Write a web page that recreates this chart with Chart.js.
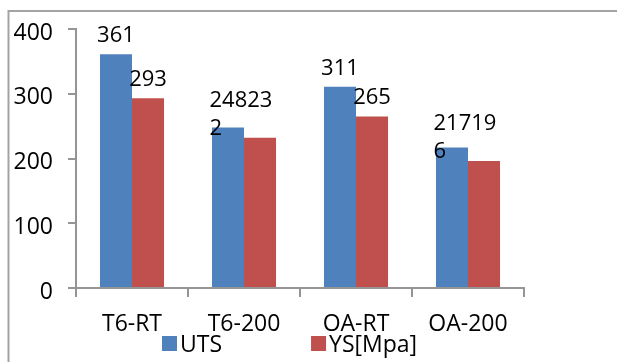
<!DOCTYPE html>
<html>
<head>
<meta charset="utf-8">
<script src="https://cdn.jsdelivr.net/npm/chart.js@4.4.0/dist/chart.umd.min.js"></script>
<style>
  html, body { margin: 0; padding: 0; background: #fff; }
  #wrap { width: 617px; height: 362px; }
</style>
</head>
<body>
<div id="wrap"><canvas id="c" width="617" height="362"></canvas></div>
<script>
// Tensile results per temper / test temperature
const categories = ['T6-RT', 'T6-200', 'OA-RT', 'OA-200'];
const utsValues = [361, 248, 311, 217];
const ysValues = [293, 232, 265, 196];
const seriesNames = ['UTS', 'YS[Mpa]'];
const yTickValues = [0, 100, 200, 300, 400];

const FONT = '"Open Sans", "Noto Sans", sans-serif';
const FONT_SIZE = 23;
const AXIS = '#959595';
const BLUE = '#4F81BD';
const RED = '#C0504D';

// Thin grey frame around the whole chart
const framePlugin = {
  id: 'frame',
  beforeDraw(chart) {
    const ctx = chart.ctx;
    ctx.save();
    ctx.strokeStyle = '#a3a3a3';
    ctx.lineWidth = 2;
    ctx.strokeRect(8.5, 11, chart.width + 50, chart.height + 50);
    ctx.restore();
  }
};

// Value labels above the bars; labels of a group that would collide are merged into one wrapped block
const valueLabelPlugin = {
  id: 'valueLabels',
  afterDatasetsDraw(chart) {
    const ctx = chart.ctx;
    const size = 22, lineH = 28, gap = 12;
    ctx.save();
    ctx.font = `${size}px ${FONT}`;
    ctx.fillStyle = '#000';
    ctx.textBaseline = 'alphabetic';
    const m0 = chart.getDatasetMeta(0), m1 = chart.getDatasetMeta(1);
    categories.forEach((_, i) => {
      const b0 = m0.data[i], b1 = m1.data[i];
      const t0 = String(chart.data.datasets[0].data[i]);
      const t1 = String(chart.data.datasets[1].data[i]);
      const w0 = ctx.measureText(t0).width, w1 = ctx.measureText(t1).width;
      const y0 = b0.y - gap, y1 = b1.y - gap;
      const hOverlap = (b0.x + w0 / 2) > (b1.x - w1 / 2);
      const vOverlap = Math.abs(y0 - y1) < size * 0.8;
      if (hOverlap && vOverlap) {
        // one block, wrapped to the width of the bar pair
        const left = b0.x - b0.width / 2 - 2.5;
        const maxW = b0.width + b1.width + 6;
        const all = t0 + t1;
        const lines = [];
        let cur = '';
        for (const ch of all) {
          if (ctx.measureText(cur + ch).width > maxW && cur) { lines.push(cur); cur = ch; }
          else cur += ch;
        }
        if (cur) lines.push(cur);
        ctx.textAlign = 'left';
        const lastBase = Math.max(b0.y, b1.y) - 3;
        lines.forEach((ln, k) => {
          ctx.fillText(ln, left, lastBase - (lines.length - 1 - k) * lineH);
        });
      } else {
        ctx.textAlign = 'center';
        ctx.fillText(t0, b0.x, y0);
        ctx.fillText(t1, b1.x, y1);
      }
    });
    ctx.restore();
  }
};

// Legend row under the category axis
const legendPlugin = {
  id: 'bottomLegend',
  afterDraw(chart) {
    const ctx = chart.ctx;
    const box = 15, textGap = 3, itemGap = 89;
    const top = 336;
    let x = chart.chartArea.left + 86;
    ctx.save();
    ctx.font = `${FONT_SIZE}px ${FONT}`;
    ctx.textBaseline = 'middle';
    ctx.textAlign = 'left';
    chart.data.datasets.forEach(ds => {
      ctx.fillStyle = ds.backgroundColor;
      ctx.fillRect(x, top, box, box);
      x += box + textGap;
      ctx.fillStyle = '#000';
      ctx.fillText(ds.label, x, top + box / 2 + 1.5);
      x += ctx.measureText(ds.label).width + itemGap;
    });
    ctx.restore();
  }
};

new Chart(document.getElementById('c'), {
  type: 'bar',
  data: {
    labels: categories,
    datasets: [
      { label: seriesNames[0], data: utsValues, backgroundColor: BLUE },
      { label: seriesNames[1], data: ysValues, backgroundColor: RED }
    ]
  },
  options: {
    responsive: false,
    devicePixelRatio: 1,
    animation: false,
    layout: { padding: { top: 29, right: 93, left: 0, bottom: 0 } },
    datasets: { bar: { categoryPercentage: 0.572, barPercentage: 1.0 } },
    plugins: { legend: { display: false }, tooltip: { enabled: false } },
    scales: {
      x: {
        grid: { offset: true, drawOnChartArea: false, drawTicks: true, tickLength: 9, color: AXIS, lineWidth: 2 },
        border: { color: AXIS, width: 2 },
        ticks: { font: { family: FONT, size: FONT_SIZE }, color: '#000', padding: 14, maxRotation: 0, autoSkip: false },
        afterFit(scale) { scale.height = 74; }
      },
      y: {
        min: 0,
        max: 400,
        afterBuildTicks(scale) { scale.ticks = yTickValues.map(v => ({ value: v })); },
        grid: { drawOnChartArea: false, drawTicks: true, tickLength: 8, color: AXIS, lineWidth: 2 },
        border: { color: AXIS, width: 2 },
        ticks: { font: { family: FONT, size: FONT_SIZE }, color: '#000', padding: 15, labelOffset: 4 },
        afterFit(scale) { scale.width = 76; }
      }
    }
  },
  plugins: [framePlugin, valueLabelPlugin, legendPlugin]
});
</script>
</body>
</html>
